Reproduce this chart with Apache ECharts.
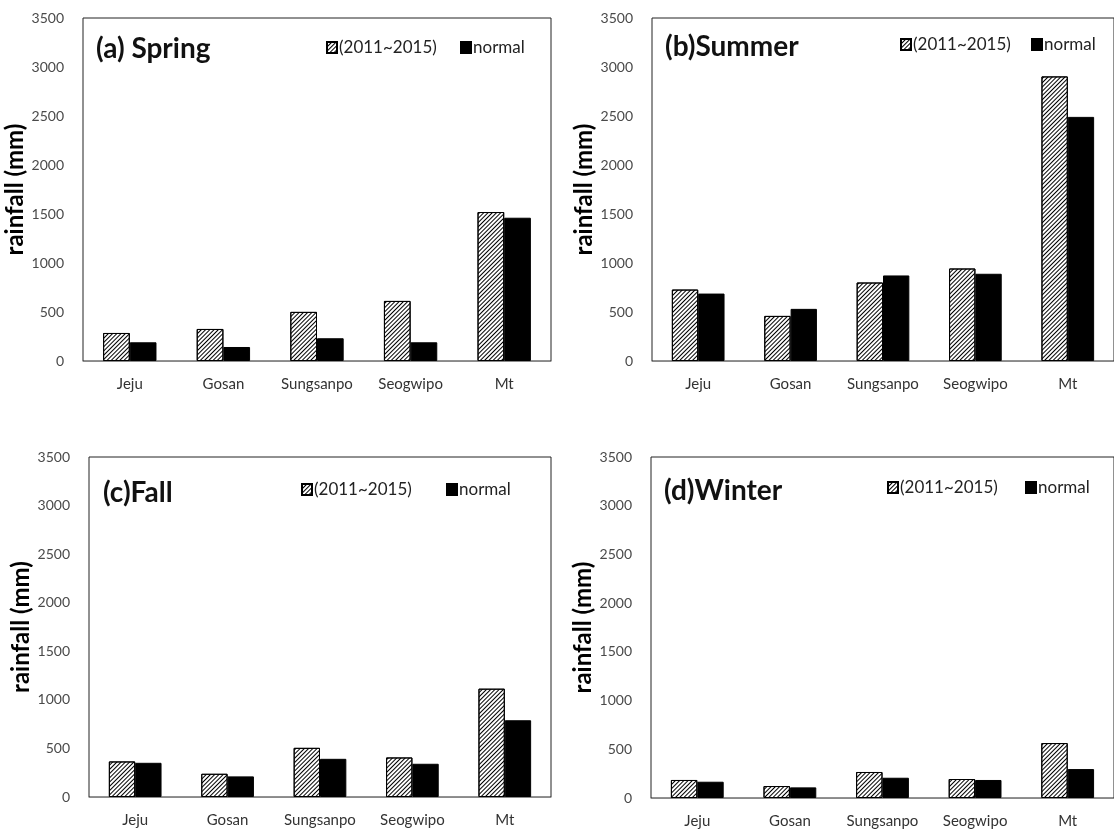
<!DOCTYPE html>
<html>
<head>
<meta charset="utf-8">
<script src="https://cdn.jsdelivr.net/npm/echarts@6/dist/echarts.min.js"></script>
<style>
html,body{margin:0;padding:0;background:#fff;}
#chart{width:1114px;height:832px;}
</style>
</head>
<body>
<div id="chart"></div>
<script>
// ---- data ----
const categories = ['Jeju', 'Gosan', 'Sungsanpo', 'Seogwipo', 'Mt'];
const seriesNames = ['(2011~2015)', 'normal'];
const panelTitles = ['(a) Spring', '(b)Summer', '(c)Fall', '(d)Winter'];
const springRecent = [286, 327, 501, 613, 1520];
const springNormal = [191, 143, 232, 191, 1462];
const summerRecent = [729, 460, 801, 944, 2904];
const summerNormal = [688, 532, 873, 890, 2491];
const fallRecent = [366, 239, 506, 407, 1115];
const fallNormal = [352, 212, 393, 342, 790];
const winterRecent = [185, 123, 267, 195, 564];
const winterNormal = [167, 109, 208, 185, 297];
const yMin = 0, yMax = 3500, yStep = 500;
const yName = 'rainfall (mm)';

const recent = [springRecent, summerRecent, fallRecent, winterRecent];
const normal = [springNormal, summerNormal, fallNormal, winterNormal];

// ---- layout ----
const grids = [
  {left: 83, top: 18, width: 468, height: 343},
  {left: 652, top: 18, width: 466, height: 343},
  {left: 89, top: 457, width: 462, height: 340},
  {left: 651, top: 457, width: 466, height: 341}
];
const titlePos = [[96, 35], [665, 33], [103, 479], [664, 477]];
const legendRecentPos = [[326, 39], [900, 36], [301, 481], [887, 479]];
const legendNormalPos = [[460, 39], [1031, 36], [446, 481], [1025, 479]];
const nameGaps = [50, 50, 49, 46];

const FONT = 'Lato';
const hatch = {
  symbol: 'rect',
  symbolSize: 1,
  dashArrayX: [[1, 0]],
  dashArrayY: [1, 1.6],
  rotation: -Math.PI / 4,
  color: '#000'
};

const option = {
  backgroundColor: '#fff',
  animation: false,
  title: panelTitles.map((t, i) => ({
    text: t,
    left: titlePos[i][0],
    top: titlePos[i][1],
    padding: 0,
    textStyle: {fontFamily: FONT, fontSize: 28, fontWeight: 'bold', color: '#111'}
  })),
  legend: [],
  grid: grids.map(g => Object.assign({show: true, borderColor: '#222', borderWidth: 1, containLabel: false}, g)),
  xAxis: grids.map((g, i) => ({
    type: 'category',
    gridIndex: i,
    data: categories,
    axisLine: {lineStyle: {color: '#8a8a8a', width: 1}},
    axisTick: {show: false},
    axisLabel: {interval: 0, fontFamily: FONT, fontSize: 15, color: '#333', margin: 16}
  })),
  yAxis: grids.map((g, i) => ({
    type: 'value',
    gridIndex: i,
    min: yMin, max: yMax, interval: yStep,
    name: yName,
    nameLocation: 'middle',
    nameGap: nameGaps[i],
    nameTextStyle: {fontFamily: FONT, fontSize: 24, fontWeight: 'bold', color: '#000'},
    axisLine: {show: false},
    axisTick: {show: false},
    splitLine: {show: false},
    axisLabel: {fontFamily: FONT, fontSize: 14, color: '#4a4a4a', margin: 19, formatter: v => String(v)}
  })),
  series: []
};

for (let i = 0; i < 4; i++) {
  option.series.push({
    name: seriesNames[0],
    type: 'bar',
    xAxisIndex: i, yAxisIndex: i,
    data: recent[i],
    barGap: '0%',
    barCategoryGap: '43%',
    itemStyle: {color: '#fff', borderColor: '#000', borderWidth: 1, decal: hatch}
  });
  option.series.push({
    name: seriesNames[1],
    type: 'bar',
    xAxisIndex: i, yAxisIndex: i,
    data: normal[i],
    barGap: '0%',
    barCategoryGap: '43%',
    itemStyle: {color: '#000', borderColor: '#000', borderWidth: 1}
  });
  option.legend.push({
    data: [{name: seriesNames[0], icon: 'rect'}],
    left: legendRecentPos[i][0], top: legendRecentPos[i][1],
    padding: 0, itemWidth: 10, itemHeight: 11,
    selectedMode: false,
    textStyle: {fontFamily: FONT, fontSize: 17, color: '#222', padding: [0, 0, 0, -3]}
  });
  option.legend.push({
    data: [{name: seriesNames[1], icon: 'rect'}],
    left: legendNormalPos[i][0], top: legendNormalPos[i][1],
    padding: 0, itemWidth: 10, itemHeight: 11,
    selectedMode: false,
    textStyle: {fontFamily: FONT, fontSize: 17, color: '#222', padding: [0, 0, 0, -3]}
  });
}

const chart = echarts.init(document.getElementById('chart'), null, {renderer: 'canvas'});
chart.setOption(option);
</script>
</body>
</html>
